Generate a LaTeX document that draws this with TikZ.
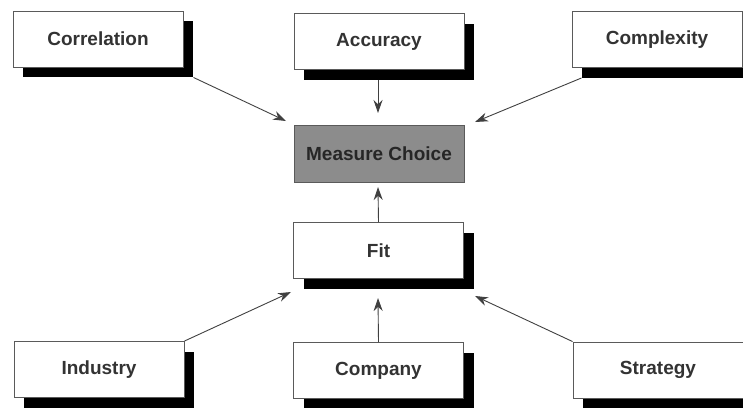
\documentclass[tikz,border=0pt]{standalone}
\usepackage{fontspec}
\setmainfont{Liberation Sans}
\usetikzlibrary{shadows,arrows.meta,calc}
\definecolor{txt}{HTML}{333333}
\definecolor{edge}{HTML}{5A5A5A}
\definecolor{wire}{HTML}{404040}
\definecolor{choice}{HTML}{8C8C8C}
\begin{document}
\begin{tikzpicture}[x=1pt,y=1pt,
  factor/.style={draw=edge, line width=0.9pt, fill=white,
    minimum width=170pt, minimum height=56pt, inner sep=0pt,
    font=\fontsize{19}{22}\selectfont\bfseries, text=txt,
    drop shadow={fill=black, opacity=1, shadow xshift=10pt, shadow yshift=-10pt}},
  hub/.style={draw=edge, line width=0.9pt, fill=choice,
    minimum width=170pt, minimum height=57pt, inner sep=0pt,
    font=\fontsize{19}{22}\selectfont\bfseries, text=black!85},
  link/.style={draw=wire, line width=0.9pt,
    -{Stealth[length=13pt,width=9pt]}}]
\useasboundingbox (0,0) rectangle (743,-407);

% upper row of factors
\node[factor] (corr) at (98,-39) {Correlation};
\node[factor] (acc)  at (379,-41.5) {Accuracy};
\node[factor] (cplx) at (657,-39.5) {Complexity};

% central choice and fit
\node[hub]    (meas) at (379,-153.5) {Measure Choice};
\node[factor] (fit)  at (378.5,-250.5) {Fit};

% lower row of factors
\node[factor] (ind)  at (99,-369.5) {Industry};
\node[factor] (comp) at (378.5,-370.5) {Company};
\node[factor] (strat) at (658,-370) {Strategy};

% arrow tip positions
\coordinate (tCorr) at (286,-121);
\coordinate (tAcc)  at (378,-113);
\coordinate (tCplx) at (475,-122);
\coordinate (tFitUp) at (378,-187);
\coordinate (tInd)  at (291,-292);
\coordinate (tComp) at (378,-298);
\coordinate (tStrat) at (475,-296);

\draw[link] ($(corr.south east)+(10,-10)$) -- (tCorr);
\draw[link] ($(acc.south)+(-1,-10)$) -- (tAcc);
\draw[link] ($(cplx.south west)+(10,-10)$) -- (tCplx);
\draw[link] (fit.north) -- (tFitUp);
\draw[link] (ind.north east) -- (tInd);
\draw[link] (comp.north) -- (tComp);
\draw[link] (strat.north west) -- (tStrat);
\end{tikzpicture}
\end{document}
